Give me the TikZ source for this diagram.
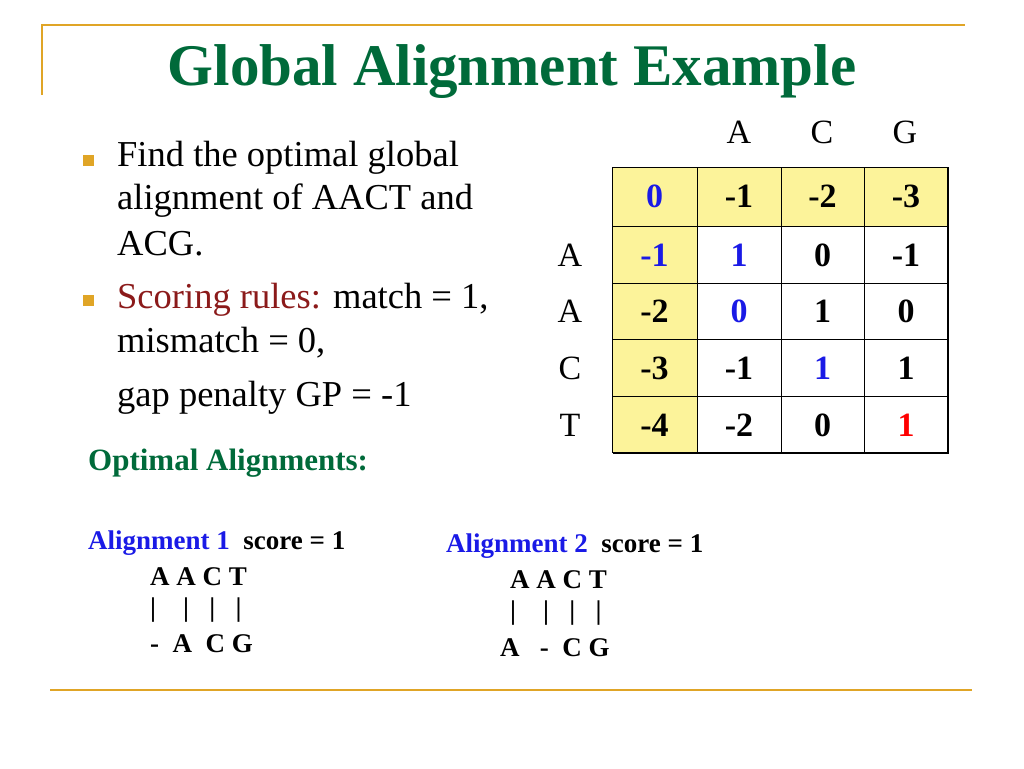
\documentclass[tikz,border=0pt]{standalone}
\usepackage{fontspec}
\setmainfont{Liberation Serif}
\definecolor{gold}{HTML}{E0A526}
\definecolor{dgreen}{HTML}{006A3A}
\definecolor{dred}{HTML}{8B1A1A}
\definecolor{cellyel}{HTML}{FCF39A}
\definecolor{ablue}{HTML}{1A1AE6}
\begin{document}
\begin{tikzpicture}[x=1pt,y=-1pt,
  body/.style={anchor=west,inner sep=0pt,font=\fontsize{36.5}{40}\selectfont},
  num/.style={font=\fontsize{34}{38}\selectfont\bfseries},
  lab/.style={font=\fontsize{34}{38}\selectfont},
  aln/.style={anchor=west,inner sep=0pt,font=\fontsize{27}{30}\selectfont\bfseries},
  bul/.style={fill=gold,minimum size=11pt,inner sep=0pt}]
\useasboundingbox (0,0) rectangle (1024,768);
\draw[gold,line width=1.5pt] (42,95) -- (42,25) -- (965,25);
\draw[gold,line width=1.5pt] (50,690) -- (972,690);
\node[text=dgreen,font=\fontsize{59}{64}\selectfont\bfseries] (title) at (512,72) {Global Alignment Example};
\node[bul] (b1) at (88,160) {};
\node[bul] (b2) at (88,300) {};
\node[body] (t1) at (117,158) {Find the optimal global};
\node[body] (t2) at (117,201) {alignment of AACT and};
\node[body] (t3) at (117,244) {ACG.};
\node[body] (t4) at (117,300) {\textcolor{dred}{ Scoring rules:} match = 1,};
\node[body] (t5) at (117,343) {mismatch = 0,};
\node[body] (t6) at (117,398) {gap penalty GP = -1};
% table
\fill[cellyel] (612,167) rectangle (948,226);
\fill[cellyel] (612,226) rectangle (697,452);
\foreach \x in {697,781,864} \draw[line width=1pt] (\x,167) -- (\x,452);
\foreach \y in {226,283,339,396} \draw[line width=1pt] (612,\y) -- (948,\y);
\draw[line width=1pt] (612,167) rectangle (948,452);
\draw[line width=2.5pt] (948,168) -- (948,453) (613,453) -- (949,453);
\node[lab] (cA) at (739,132) {A};
\node[lab] (cC) at (822,132) {C};
\node[lab] (cG) at (905,132) {G};
\node[lab] (rA1) at (570,255) {A};
\node[lab] (rA2) at (570,311) {A};
\node[lab] (rC) at (570,368) {C};
\node[lab] (rT) at (570,425) {T};
\def\cx{{654.5,739,822.5,906}}
\def\ry{{196,255,311,368,425}}
\foreach \r/\row in {0/{\color{ablue}0,-1,-2,-3},1/{\color{ablue}-1,\color{ablue}1,0,-1},2/{-2,\color{ablue}0,1,0},3/{-3,-1,\color{ablue}1,1},4/{-4,-2,0,\color{red}1}}{
  \foreach \v [count=\c from 0] in \row {
    \node[num] (m\r\c) at ({\cx[\c]},{\ry[\r]}) {\v};
  }
}
\node[anchor=west,inner sep=0pt,text=dgreen,font=\fontsize{31}{34}\selectfont\bfseries] (opt) at (88,463) {Optimal Alignments:};
\node[aln] (a1) at (88,543) {\textcolor{ablue}{Alignment 1}\ \ score = 1};
\node[aln] (a1a) at (150,577) {A A C T};
\node[aln] (a1b) at (150,610) {|\ \ \ \ |\ \ \ |\ \ \ |};
\node[aln] (a1c) at (150,644) {-\ \ A\ \ C G};
\node[aln] (a2) at (446,546) {\textcolor{ablue}{Alignment 2}\ \ score = 1};
\node[aln] (a2a) at (510,580) {A A C T};
\node[aln] (a2b) at (510,613) {|\ \ \ \ |\ \ \ |\ \ \ |};
\node[aln] (a2c) at (500,648) {A\ \ \ -\ \ C G};
\end{tikzpicture}
\end{document}
